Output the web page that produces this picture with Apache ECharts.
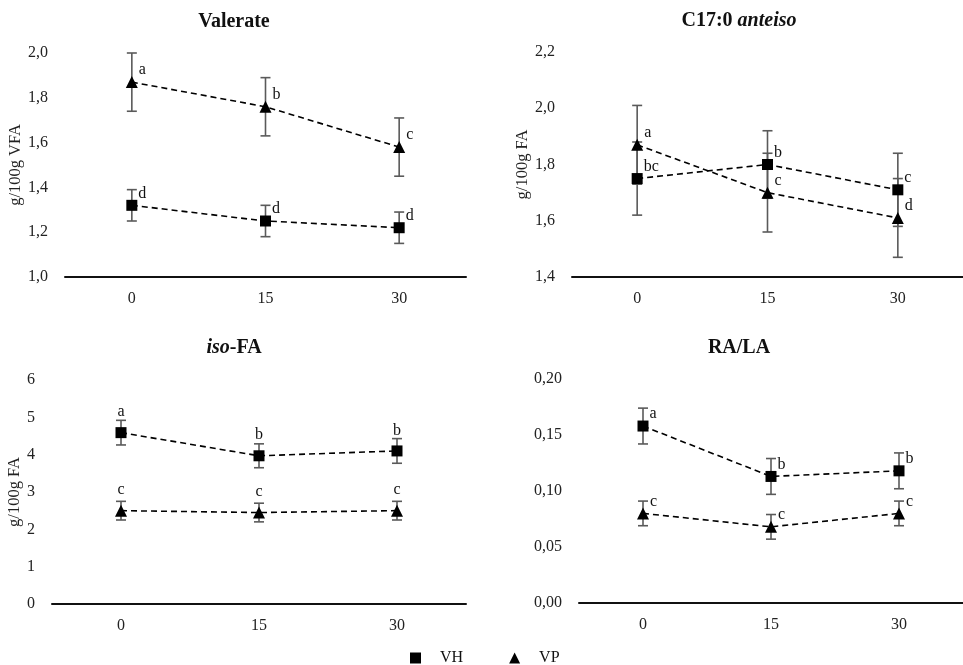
<!DOCTYPE html>
<html>
<head>
<meta charset="utf-8">
<script src="https://cdn.jsdelivr.net/npm/echarts@6/dist/echarts.min.js"></script>
<style>html,body{margin:0;padding:0;background:#fff}#c{width:963px;height:665px}</style>
</head>
<body>
<div id="c"></div>
<script>
const days = ['0', '15', '30'];

const valerateVH = [1.32, 1.25, 1.22];
const valerateVHErr = [0.07, 0.07, 0.07];
const valerateVP = [1.87, 1.76, 1.58];
const valerateVPErr = [0.13, 0.13, 0.13];
const valerateVHLetters = ['d', 'd', 'd'];
const valerateVPLetters = ['a', 'b', 'c'];

const c17VH = [1.75, 1.80, 1.71];
const c17VHErr = [0.13, 0.12, 0.13];
const c17VP = [1.87, 1.70, 1.61];
const c17VPErr = [0.14, 0.14, 0.14];
const c17VHLetters = ['bc', 'b', 'c'];
const c17VPLetters = ['a', 'c', 'd'];

const isoVH = [4.59, 3.97, 4.10];
const isoVHErr = [0.33, 0.32, 0.33];
const isoVP = [2.50, 2.45, 2.50];
const isoVPErr = [0.25, 0.25, 0.25];
const isoVHLetters = ['a', 'b', 'b'];
const isoVPLetters = ['c', 'c', 'c'];

const raVH = [0.158, 0.113, 0.118];
const raVHErr = [0.016, 0.016, 0.016];
const raVP = [0.080, 0.068, 0.080];
const raVPErr = [0.011, 0.011, 0.011];
const raVHLetters = ['a', 'b', 'b'];
const raVPLetters = ['c', 'c', 'c'];

const FONT = '"Liberation Serif", "Times New Roman", serif';

const panels = [
  { grid: { left: 65, top: 53, width: 401, height: 224 }, min: 1.0, max: 2.0, interval: 0.2, dec: 1,
    name: 'g/100g VFA', nameGap: 40, labelTop: false,
    vh: valerateVH, vhErr: valerateVHErr, vp: valerateVP, vpErr: valerateVPErr,
    vhL: valerateVHLetters, vpL: valerateVPLetters },
  { grid: { left: 572, top: 52, width: 400, height: 225 }, min: 1.4, max: 2.2, interval: 0.2, dec: 1,
    name: 'g/100g FA', nameGap: 41, labelTop: false,
    vh: c17VH, vhErr: c17VHErr, vp: c17VP, vpErr: c17VPErr,
    vhL: c17VHLetters, vpL: c17VPLetters },
  { grid: { left: 52, top: 380, width: 414, height: 224 }, min: 0, max: 6, interval: 1, dec: 0,
    name: 'g/100g FA', nameGap: 27, labelTop: true,
    vh: isoVH, vhErr: isoVHErr, vp: isoVP, vpErr: isoVPErr,
    vhL: isoVHLetters, vpL: isoVPLetters },
  { grid: { left: 579, top: 379, width: 393, height: 224 }, min: 0, max: 0.2, interval: 0.05, dec: 2,
    name: '', nameGap: 40, labelTop: false,
    vh: raVH, vhErr: raVHErr, vp: raVP, vpErr: raVPErr,
    vhL: raVHLetters, vpL: raVPLetters }
];

const grids = [], xAxes = [], yAxes = [], series = [];

function errSeries(idx, vals, errs) {
  return {
    type: 'custom', xAxisIndex: idx, yAxisIndex: idx, z: 1, silent: true,
    data: vals.map((v, i) => [i, v - errs[i], v + errs[i]]),
    encode: { x: 0, y: [1, 2] },
    renderItem: function (params, api) {
      const x = api.value(0);
      const lo = api.coord([x, api.value(1)]);
      const hi = api.coord([x, api.value(2)]);
      const w = 5;
      const st = { stroke: '#5a5a5a', lineWidth: 1.6 };
      return { type: 'group', children: [
        { type: 'line', shape: { x1: hi[0], y1: hi[1], x2: lo[0], y2: lo[1] }, style: st },
        { type: 'line', shape: { x1: hi[0] - w, y1: hi[1], x2: hi[0] + w, y2: hi[1] }, style: st },
        { type: 'line', shape: { x1: lo[0] - w, y1: lo[1], x2: lo[0] + w, y2: lo[1] }, style: st }
      ]};
    }
  };
}

function lineSeries(idx, name, vals, letters, symbol, size, top) {
  return {
    type: 'line', name: name, xAxisIndex: idx, yAxisIndex: idx, z: 3,
    data: vals, symbol: symbol, symbolSize: size,
    itemStyle: { color: '#000' },
    lineStyle: { color: '#000', width: 1.6, type: [6, 4] },
    label: top ? {
      show: true, position: 'top', distance: 7,
      formatter: p => letters[p.dataIndex],
      fontFamily: FONT, fontSize: 16, color: '#111'
    } : {
      show: true, position: 'right', distance: 1, offset: [0, -12],
      formatter: p => letters[p.dataIndex],
      fontFamily: FONT, fontSize: 16, color: '#111'
    }
  };
}

panels.forEach((p, idx) => {
  grids.push(p.grid);
  xAxes.push({
    type: 'category', gridIndex: idx, data: days, boundaryGap: true,
    axisLine: { lineStyle: { color: '#111', width: 2 } },
    axisTick: { show: false },
    axisLabel: { fontFamily: FONT, fontSize: 16, color: '#222', margin: 14 }
  });
  yAxes.push({
    type: 'value', gridIndex: idx, min: p.min, max: p.max, interval: p.interval,
    name: p.name, nameLocation: 'middle', nameGap: p.nameGap, nameRotate: 90,
    nameTextStyle: { fontFamily: FONT, fontSize: 16.5, color: '#222' },
    axisLine: { show: false }, axisTick: { show: false }, splitLine: { show: false },
    axisLabel: { fontFamily: FONT, fontSize: 16, color: '#222', margin: 17,
      formatter: v => v.toFixed(p.dec).replace('.', ',') }
  });
  series.push(errSeries(idx, p.vh, p.vhErr));
  series.push(errSeries(idx, p.vp, p.vpErr));
  series.push(lineSeries(idx, 'VH', p.vh, p.vhL, 'rect', 11, p.labelTop));
  series.push(lineSeries(idx, 'VP', p.vp, p.vpL, 'triangle', 12, p.labelTop));
});

const titleStyle = {
  fontFamily: FONT, fontSize: 20, fontWeight: 'bold', color: '#111',
  rich: {
    b: { fontFamily: FONT, fontSize: 20, fontWeight: 'bold', color: '#111' },
    i: { fontFamily: FONT, fontSize: 20, fontWeight: 'bold', fontStyle: 'italic', color: '#111' }
  }
};

const chart = echarts.init(document.getElementById('c'));
chart.setOption({
  animation: false,
  backgroundColor: '#fff',
  title: [
    { text: '{b|Valerate}', left: 229, top: 7, textAlign: 'center', textStyle: titleStyle },
    { text: '{b|C17:0 }{i|anteiso}', left: 734, top: 6, textAlign: 'center', textStyle: titleStyle },
    { text: '{i|iso}{b|-FA}', left: 229, top: 333, textAlign: 'center', textStyle: titleStyle },
    { text: '{b|RA/LA}', left: 734, top: 333, textAlign: 'center', textStyle: titleStyle }
  ],
  legend: {
    left: 405, top: 645, itemWidth: 11, itemHeight: 11, itemGap: 46,
    textStyle: { fontFamily: FONT, fontSize: 16, color: '#111', padding: [0, 0, 0, 14] },
    data: [{ name: 'VH', icon: 'rect' }, { name: 'VP', icon: 'triangle' }]
  },
  grid: grids,
  xAxis: xAxes,
  yAxis: yAxes,
  series: series
});
</script>
</body>
</html>
